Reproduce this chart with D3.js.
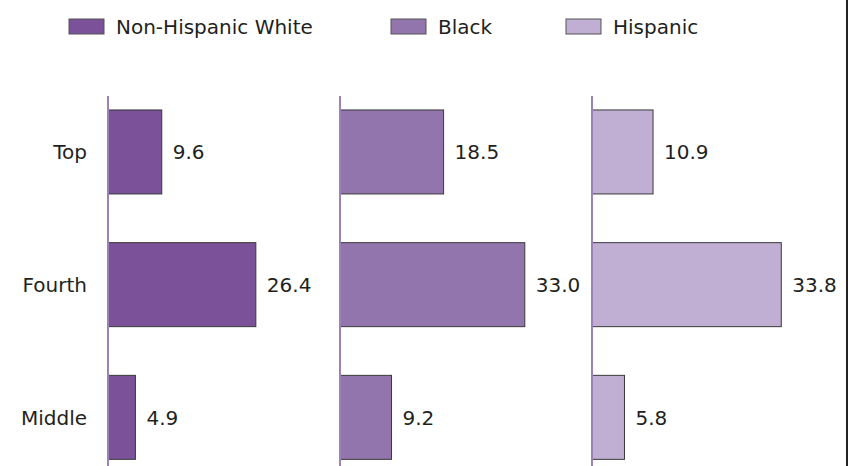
<!DOCTYPE html>
<html>
<head>
<meta charset="utf-8">
<script src="https://cdn.jsdelivr.net/npm/d3@7"></script>
<style>
  body { margin: 0; background: #fff; }
  svg { display: block; }
  .lab { font-family: "DejaVu Sans", Verdana, sans-serif; font-size: 20px; fill: #231f20; }
</style>
</head>
<body>
<svg id="chart" width="848" height="466"></svg>
<script>
// categories and series
var categories = ['Top', 'Fourth', 'Middle'];
var groups = ['Non-Hispanic White', 'Black', 'Hispanic'];
var white = [9.6, 26.4, 4.9];
var black = [18.5, 33.0, 9.2];
var hispanic = [10.9, 33.8, 5.8];

var series = [white, black, hispanic];
var colors = ['#7b5199', '#9275ad', '#c0aed3'];

var svg = d3.select('#chart'),
	width = 848,
	height = 466;

svg.append('rect').attr('width', width).attr('height', height).attr('fill', '#fff');

// right border
svg.append('line')
	.attr('x1', 847).attr('x2', 847).attr('y1', 0).attr('y2', height)
	.attr('stroke', '#222').attr('stroke-width', 2);

var y = d3.scaleBand()
	.domain(categories)
	.range([85.6, 483.7])
	.paddingInner(0.367)
	.paddingOuter(0.1835);

var x = d3.scaleLinear().domain([0, 10]).range([0, 56]);

var panelX = [108, 340, 592];

series.forEach(function (vals, s) {
	var g = svg.append('g').attr('transform', 'translate(' + panelX[s] + ',0)');

	g.selectAll('rect.bar')
		.data(vals)
		.enter().append('rect')
		.attr('class', 'bar')
		.attr('x', 0)
		.attr('y', function (d, i) { return y(categories[i]); })
		.attr('width', function (d) { return x(d); })
		.attr('height', y.bandwidth())
		.attr('fill', colors[s])
		.attr('stroke', '#3a3a3a')
		.attr('stroke-width', 1);

	g.selectAll('text.val')
		.data(vals)
		.enter().append('text')
		.attr('class', 'lab')
		.attr('x', function (d) { return x(d) + 11; })
		.attr('y', function (d, i) { return y(categories[i]) + y.bandwidth() / 2; })
		.attr('dy', '0.36em')
		.text(function (d) { return d.toFixed(1); });

	// axis line
	g.append('line')
		.attr('x1', 0).attr('x2', 0).attr('y1', 96).attr('y2', height)
		.attr('stroke', '#9b82b8').attr('stroke-width', 2);
});

// category labels
svg.selectAll('text.cat')
	.data(categories)
	.enter().append('text')
	.attr('class', 'lab')
	.attr('x', 87)
	.attr('y', function (d) { return y(d) + y.bandwidth() / 2; })
	.attr('dy', '0.36em')
	.attr('text-anchor', 'end')
	.text(function (d) { return d; });

// legend
var legX = [69, 391, 566];
var leg = svg.selectAll('g.leg')
	.data(groups)
	.enter().append('g')
	.attr('transform', function (d, i) { return 'translate(' + legX[i] + ',19)'; });

leg.append('rect')
	.attr('width', 35).attr('height', 15)
	.attr('fill', function (d, i) { return colors[i]; })
	.attr('stroke', '#555').attr('stroke-width', 1);

leg.append('text')
	.attr('class', 'lab')
	.attr('x', 47)
	.attr('y', 7.5)
	.attr('dy', '0.36em')
	.text(function (d) { return d; });
</script>
</body>
</html>
